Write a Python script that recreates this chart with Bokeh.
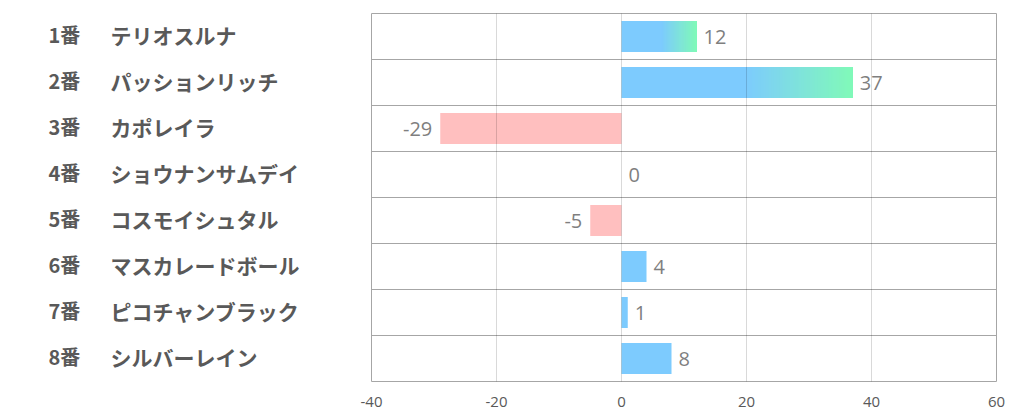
from bokeh.plotting import figure
from bokeh.layouts import row
from bokeh.models import Range1d, FixedTicker, ColumnDataSource, Grid
from bokeh.embed import file_html
from bokeh.resources import INLINE
from bokeh.core.properties import value

# ---- data ----
numbers = ["1番", "2番", "3番", "4番", "5番", "6番", "7番", "8番"]
names = ["テリオスルナ", "パッションリッチ", "カポレイラ", "ショウナンサムデイ",
         "コスモイシュタル", "マスカレードボール", "ピコチャンブラック", "シルバーレイン"]
scores = [12, 37, -29, 0, -5, 4, 1, 8]
x_ticks = [-40, -20, 0, 20, 40, 60]

# ---- layout / style ----
W, H = 1022, 417
LW = 360                 # width of the label panel
L, R, T, B = 11, 26, 13, 36
XMIN, XMAX = -40, 60
n = len(scores)
ys = list(range(1, n + 1))
BLUE = (125, 203, 254)
GREEN = (128, 249, 185)
PINK = "#ffbfbf"
BAR_H = 0.67


def hexc(c):
    return "#%02x%02x%02x" % tuple(int(round(v)) for v in c)


yr = Range1d(n + 0.5, 0.5)

# ---- label panel ----
lp = figure(width=LW, height=H, x_range=Range1d(0, LW), y_range=yr,
            output_backend="svg", toolbar_location=None,
            x_axis_location=None, y_axis_location=None,
            min_border_left=0, min_border_right=0, min_border_top=T, min_border_bottom=B,
            background_fill_color="white", border_fill_color="white")
lp.outline_line_color = None
lp.grid.visible = False
cat = ColumnDataSource(dict(y=ys, num=numbers, name=names,
                            xn=[48] * n, xm=[110] * n))
lp.text(x="xn", y="y", text="num", source=cat, text_align="left", y_offset=-2,
        text_baseline="middle", text_font=value("Noto Sans CJK JP"),
        text_font_style="bold", text_font_size="20px", text_color="#595959")
lp.text(x="xm", y="y", text="name", source=cat, text_align="left", y_offset=-2,
        text_baseline="middle", text_font=value("Noto Sans CJK JP"),
        text_font_style="bold", text_font_size="21px", text_color="#595959")

# ---- chart ----
p = figure(width=W - LW, height=H, x_range=Range1d(XMIN, XMAX), y_range=yr,
           output_backend="svg", toolbar_location=None, y_axis_location=None,
           min_border_left=L, min_border_right=R, min_border_top=T, min_border_bottom=B,
           background_fill_color="white", border_fill_color="white")
p.outline_line_color = "#a6a6a6"
p.outline_line_width = 1

p.xgrid.ticker = FixedTicker(ticks=x_ticks)
p.xgrid.grid_line_color = "black"
p.xgrid.grid_line_alpha = 0.15
p.xgrid.level = "overlay"
p.ygrid.visible = False

sep = Grid(dimension=1, ticker=FixedTicker(ticks=[y + 0.5 for y in ys[:-1]]),
           grid_line_color="#a6a6a6", grid_line_width=1)
p.add_layout(sep)

p.xaxis.ticker = FixedTicker(ticks=x_ticks)
p.xaxis.major_label_overrides = {t: str(t) for t in x_ticks}
p.xaxis.axis_line_color = None
p.xaxis.major_tick_line_color = None
p.xaxis.minor_tick_line_color = None
p.xaxis.major_label_standoff = 9
p.xaxis.major_label_text_font = "Open Sans"
p.xaxis.major_label_text_font_size = "15px"
p.xaxis.major_label_text_color = "#595959"

bars = ColumnDataSource(dict(
    y=ys,
    left=[min(0, v) for v in scores],
    right=[max(0, v) for v in scores],
    color=[hexc(BLUE) if v > 0 else PINK for v in scores],
))
p.hbar(y="y", left="left", right="right", height=BAR_H, fill_color="color",
       line_color=None, source=bars)

# gradient tail on the larger bars
N = 40
gy, gl, gr, gc = [], [], [], []
for y, v in zip(ys, scores):
    if v >= 10:
        for k in range(N):
            t = k / (N - 1)
            gy.append(y)
            gl.append(v * (0.53 + 0.47 * k / N))
            gr.append(v)
            gc.append(hexc([BLUE[i] + (GREEN[i] - BLUE[i]) * t for i in range(3)]))
p.hbar(y=gy, left=gl, right=gr, height=BAR_H, fill_color=gc, line_color=None)

lab = ColumnDataSource(dict(
    x=scores, y=ys, t=[str(v) for v in scores],
    xo=[7 if v >= 0 else -8 for v in scores],
    al=["left" if v >= 0 else "right" for v in scores],
))
p.text(x="x", y="y", text="t", x_offset="xo", text_align="al", text_baseline="middle",
       text_font=value("Open Sans"), text_font_size="20px", text_color="#7f7f7f", source=lab)

layout = row(lp, p, spacing=0)
open("out.html", "w").write(file_html(layout, INLINE))
